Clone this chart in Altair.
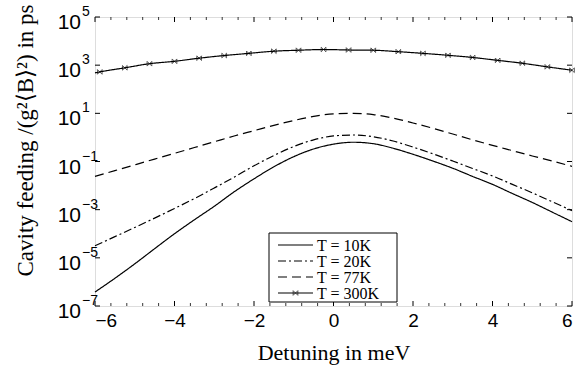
import altair as alt
import pandas as pd

# ---- data (log10 of cavity feeding) ----
detuning = [-6, -5.5, -5, -4.5, -4, -3.5, -3, -2.5, -2, -1.5, -1, -0.5, 0,
            0.5, 1, 1.5, 2, 2.5, 3, 3.5, 4, 4.5, 5, 5.5, 6]
log_t10 = [-6.42, -5.85, -5.25, -4.62, -4.0, -3.42, -2.86, -2.26, -1.72, -1.22, -0.80, -0.48, -0.28,
           -0.20, -0.26, -0.45, -0.70, -0.98, -1.28, -1.62, -1.95, -2.33, -2.70, -3.10, -3.50]
log_t20 = [-4.50, -4.12, -3.74, -3.35, -2.95, -2.54, -2.10, -1.65, -1.18, -0.75, -0.38, -0.10, 0.06,
           0.10, 0.03, -0.15, -0.40, -0.68, -0.98, -1.29, -1.60, -1.95, -2.30, -2.67, -3.04]
log_t77 = [-1.62, -1.38, -1.14, -0.90, -0.66, -0.42, -0.18, 0.06, 0.28, 0.50, 0.70, 0.87, 0.98,
           1.00, 0.95, 0.80, 0.60, 0.38, 0.14, -0.10, -0.33, -0.55, -0.77, -0.98, -1.20]
detuning_300 = [-6.0, -5.88, -5.25, -4.63, -4.0, -3.38, -2.75, -2.13, -1.5, -0.88, -0.25, 0.38,
                1.0, 1.63, 2.25, 2.88, 3.5, 4.13, 4.75, 5.38, 6.0]
log_t300 = [2.68, 2.72, 2.89, 3.06, 3.16, 3.29, 3.40, 3.49, 3.58, 3.62, 3.65, 3.63,
            3.62, 3.56, 3.49, 3.41, 3.32, 3.20, 3.08, 2.93, 2.79]

series_labels = ["T = 10K", "T = 20K", "T = 77K", "T = 300K"]
dash_styles = [[1, 0], [8, 3, 2, 3], [9, 5], [1, 0]]

x_major = [-6, -4, -2, 0, 2, 4, 6]
x_minor = [-5.6, -5.2, -4.8, -4.4, -3.6, -3.2, -2.8, -2.4, -1.6, -1.2, -0.8, -0.4,
           0.4, 0.8, 1.2, 1.6, 2.4, 2.8, 3.2, 3.6, 4.4, 4.8, 5.2, 5.6]
y_decades = [5, 3, 1, -1, -3, -5, -7]

# ---- build tables ----
rows = []
for lab, vals in zip(series_labels[:3], [log_t10, log_t20, log_t77]):
    for x, v in zip(detuning, vals):
        rows.append({"x": x, "y": 10 ** v, "series": lab})
for x, v in zip(detuning_300, log_t300):
    rows.append({"x": x, "y": 10 ** v, "series": series_labels[3]})
df = pd.DataFrame(rows)

marks300 = pd.DataFrame({"x": detuning_300[1:], "y": [10 ** v for v in log_t300[1:]]})
ylab = pd.DataFrame({"val": [10.0 ** e for e in y_decades],
                     "exp": [str(e).replace("-", "\u2212") for e in y_decades]})
xmaj = pd.DataFrame({"x": x_major})
xmin = pd.DataFrame({"x": x_minor})

W, H = 477, 289
xscale = alt.Scale(domain=[-6, 6], nice=False, zero=False)
yscale = alt.Scale(type="log", domain=[1e-7, 1e5], nice=False)
MARKER = "M-1,-1L1,1M-1,1L1,-1M-1,-1L-1,1M1,-1L1,1"

lines = alt.Chart(df).mark_line(color="black", strokeWidth=1.2, interpolate="monotone").encode(
    x=alt.X("x:Q", scale=xscale,
            axis=alt.Axis(values=x_major, ticks=False, domain=False, grid=False,
                          labelFont="Liberation Sans", labelFontSize=19, labelColor="black",
                          labelPadding=5,
                          title="Detuning in meV", titleFont="Liberation Serif",
                          titleFontSize=22, titleFontWeight="normal", titleColor="black",
                          titleX=W / 2, titleY=46, titleBaseline="middle")),
    y=alt.Y("y:Q", scale=yscale,
            axis=alt.Axis(labels=False, ticks=False, domain=False, grid=False,
                          title="Cavity feeding /(g²⟨B⟩²) in ps", titleFont="Liberation Serif",
                          titleFontSize=23, titleFontWeight="normal", titleColor="black",
                          titleX=-70, titleY=123, titleAngle=-90, titleAlign="center",
                          titleBaseline="middle")),
    strokeDash=alt.StrokeDash("series:N",
                              scale=alt.Scale(domain=series_labels, range=dash_styles),
                              legend=None),
)

points = alt.Chart(marks300).mark_point(
    shape=MARKER, size=22, filled=False, color="black", strokeWidth=0.9).encode(
    x=alt.X("x:Q", scale=xscale),
    y=alt.Y("y:Q", scale=yscale),
)

# inward tick marks
xt_bot_major = alt.Chart(xmaj).mark_rule(color="black", strokeWidth=1).encode(
    x=alt.X("x:Q", scale=xscale), y=alt.value(H), y2=alt.value(H - 5))
xt_top_major = alt.Chart(xmaj).mark_rule(color="black", strokeWidth=1).encode(
    x=alt.X("x:Q", scale=xscale), y=alt.value(0), y2=alt.value(5))
xt_bot_minor = alt.Chart(xmin).mark_rule(color="black", strokeWidth=0.8).encode(
    x=alt.X("x:Q", scale=xscale), y=alt.value(H), y2=alt.value(H - 3))
xt_top_minor = alt.Chart(xmin).mark_rule(color="black", strokeWidth=0.8).encode(
    x=alt.X("x:Q", scale=xscale), y=alt.value(0), y2=alt.value(3))
yt_left = alt.Chart(ylab).mark_rule(color="black", strokeWidth=1).encode(
    y=alt.Y("val:Q", scale=yscale), x=alt.value(0), x2=alt.value(5))
yt_right = alt.Chart(ylab).mark_rule(color="black", strokeWidth=1).encode(
    y=alt.Y("val:Q", scale=yscale), x=alt.value(W), x2=alt.value(W - 5))

# y tick labels: "10" with superscript exponent
ybase = alt.Chart(ylab).mark_text(align="right", baseline="middle", dy=6,
                                  font="Liberation Sans", fontSize=21, color="black").encode(
    y=alt.Y("val:Q", scale=yscale), x=alt.value(-14), text=alt.value("10"))
yexp = alt.Chart(ylab).mark_text(align="left", baseline="middle", dy=-5,
                                 font="Liberation Sans", fontSize=14, color="black").encode(
    y=alt.Y("val:Q", scale=yscale), x=alt.value(-13), text="exp:N")

# legend (boxed, inside the plot)
LX0, LX1, LY0, LY1 = 174, 302, 216, 285
legend_layers = [
    alt.Chart(pd.DataFrame({"a": [0]})).mark_rect(fill="white", stroke="black", strokeWidth=1).encode(
        x=alt.value(LX0), x2=alt.value(LX1), y=alt.value(LY0), y2=alt.value(LY1))
]
entry_y = [228, 244, 260, 276]
for lab, dash, ey in zip(series_labels, dash_styles, entry_y):
    d = pd.DataFrame({"label": [lab]})
    legend_layers.append(
        alt.Chart(d).mark_rule(color="black", strokeWidth=1.2, strokeDash=dash).encode(
            x=alt.value(183), x2=alt.value(218), y=alt.value(ey)))
    legend_layers.append(
        alt.Chart(d).mark_text(align="left", baseline="middle", dy=1, font="Liberation Serif",
                               fontSize=16, color="black").encode(
            x=alt.value(222), y=alt.value(ey), text="label:N"))
legend_layers.append(
    alt.Chart(pd.DataFrame({"label": [series_labels[3]]})).mark_point(
        shape=MARKER, size=22, filled=False, color="black", strokeWidth=0.9).encode(
        x=alt.value(200.5), y=alt.value(entry_y[3])))

chart = alt.layer(
    lines, points, xt_bot_major, xt_top_major, xt_bot_minor, xt_top_minor,
    yt_left, yt_right, ybase, yexp, *legend_layers
).properties(
    width=W, height=H,
    autosize=alt.AutoSizeParams(type="none"),
    padding={"left": 95, "top": 17, "right": 9, "bottom": 61},
).configure_view(stroke="black", strokeWidth=1).configure(background="white")

chart.save("out.html", embed_options={"renderer": "svg", "actions": False})
